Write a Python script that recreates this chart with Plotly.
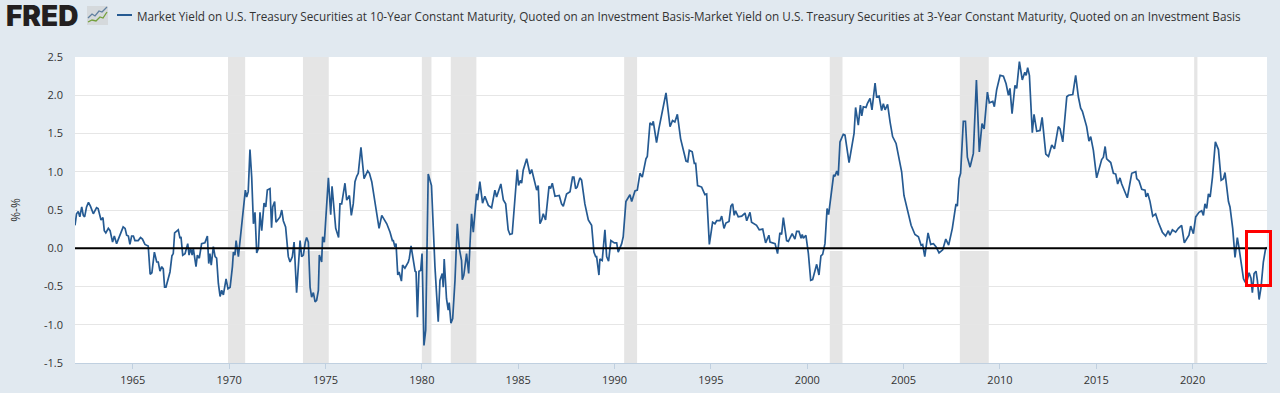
import plotly.graph_objects as go

SERIES_NAME = ("Market Yield on U.S. Treasury Securities at 10-Year Constant Maturity, Quoted on an Investment Basis-"
               "Market Yield on U.S. Treasury Securities at 3-Year Constant Maturity, Quoted on an Investment Basis")

years = [
1962.0,1962.08,1962.17,1962.25,1962.35,1962.43,1962.5,1962.6,1962.7,1962.8,1962.95,1963.12,1963.2,1963.35,1963.45,1963.52,1963.6,1963.73,1963.82,1963.95,
1964.04,1964.16,1964.5,1964.6,1964.68,1964.77,1964.85,1964.94,1965.03,1965.11,1965.28,1965.4,1965.5,1965.63,1965.8,1965.9,1965.99,1966.12,1966.24,1966.32,
1966.41,1966.5,1966.58,1966.65,1966.72,1966.82,1966.93,1967.03,1967.1,1967.17,1967.36,1967.45,1967.5,1967.59,1967.71,1967.85,1967.92,1968.0,1968.08,1968.14,
1968.28,1968.35,1968.45,1968.57,1968.74,1968.87,1968.94,1969.0,1969.07,1969.18,1969.27,1969.35,1969.44,1969.53,1969.61,1969.7,1969.84,1969.94,1970.05,1970.17,
1970.22,1970.3,1970.36,1970.48,1970.6,1970.74,1970.84,1970.91,1970.99,1971.08,1971.17,1971.26,1971.34,1971.43,1971.52,1971.6,1971.69,1971.81,1971.9,1971.98,
1972.12,1972.2,1972.26,1972.36,1972.43,1972.64,1972.73,1972.81,1972.93,1973.07,1973.16,1973.28,1973.37,1973.5,1973.68,1973.76,1973.85,1973.95,1974.02,1974.11,
1974.2,1974.28,1974.37,1974.46,1974.54,1974.63,1974.68,1974.8,1974.85,1974.94,1975.06,1975.15,1975.27,1975.34,1975.53,1975.68,1975.75,1975.84,1976.01,1976.1,
1976.24,1976.34,1976.44,1976.53,1976.62,1976.7,1976.84,1977.0,1977.19,1977.28,1977.4,1977.57,1977.66,1977.78,1977.92,1978.0,1978.18,1978.35,1978.47,1978.52,
1978.6,1978.66,1978.75,1978.82,1978.87,1978.94,1979.0,1979.12,1979.3,1979.35,1979.44,1979.56,1979.65,1979.7,1979.77,1979.85,1979.94,1980.01,1980.11,1980.2,
1980.33,1980.5,1980.68,1980.85,1980.94,1981.06,1981.11,1981.16,1981.28,1981.37,1981.42,1981.51,1981.6,1981.72,1981.84,1981.94,1982.06,1982.1,1982.18,1982.32,
1982.43,1982.5,1982.58,1982.67,1982.84,1982.89,1983.01,1983.15,1983.27,1983.45,1983.62,1983.79,1983.88,1984.1,1984.23,1984.35,1984.48,1984.57,1984.69,1984.95,
1985.02,1985.12,1985.18,1985.26,1985.44,1985.61,1985.7,1985.96,1986.04,1986.13,1986.22,1986.3,1986.42,1986.6,1986.68,1986.77,1986.91,1987.13,1987.25,1987.34,
1987.51,1987.69,1987.82,1987.89,1987.98,1988.06,1988.2,1988.29,1988.46,1988.64,1988.81,1988.93,1989.02,1989.07,1989.19,1989.24,1989.36,1989.5,1989.59,1989.69,
1989.81,1989.99,1990.11,1990.19,1990.37,1990.45,1990.59,1990.8,1990.89,1991.06,1991.18,1991.32,1991.44,1991.63,1991.7,1991.84,1991.96,1992.01,1992.18,1992.3,
1992.44,1992.67,1992.88,1993.01,1993.13,1993.26,1993.43,1993.57,1993.71,1993.8,1993.88,1994.03,1994.14,1994.21,1994.31,1994.52,1994.69,1994.78,1994.92,1995.09,
1995.21,1995.3,1995.47,1995.56,1995.68,1995.78,1995.94,1996.04,1996.13,1996.21,1996.28,1996.42,1996.6,1996.77,1996.86,1997.03,1997.11,1997.37,1997.51,1997.69,
1997.84,1998.01,1998.07,1998.33,1998.46,1998.58,1998.67,1998.76,1998.93,1999.02,1999.22,1999.36,1999.45,1999.57,1999.68,1999.74,1999.8,1999.93,2000.06,2000.18,
2000.28,2000.49,2000.61,2000.71,2000.8,2000.92,2001.03,2001.11,2001.3,2001.37,2001.44,2001.53,2001.61,2001.7,2001.87,2001.96,2002.17,2002.36,2002.43,2002.51,
2002.65,2002.76,2002.83,2002.91,2003.05,2003.12,2003.26,2003.36,2003.52,2003.6,2003.73,2003.86,2003.95,2004.04,2004.17,2004.3,2004.43,2004.61,2004.73,2004.9,
2005.02,2005.25,2005.39,2005.59,2005.77,2005.91,2005.99,2006.1,2006.27,2006.41,2006.55,2006.68,2006.84,2007.03,2007.19,2007.34,2007.53,2007.72,2007.79,2007.88,
2007.96,2008.1,2008.21,2008.31,2008.45,2008.62,2008.78,2008.93,2009.07,2009.18,2009.35,2009.45,2009.63,2009.71,2009.83,2010.01,2010.18,2010.32,2010.44,2010.52,
2010.63,2010.78,2010.87,2011.01,2011.16,2011.29,2011.36,2011.44,2011.53,2011.68,2011.77,2011.91,2012.08,2012.19,2012.38,2012.52,2012.69,2012.83,2013.03,2013.12,
2013.26,2013.47,2013.56,2013.78,2013.93,2014.07,2014.19,2014.28,2014.5,2014.62,2014.71,2014.85,2015.02,2015.28,2015.37,2015.46,2015.54,2015.75,2015.89,2016.01,
2016.11,2016.23,2016.32,2016.61,2016.84,2017.05,2017.1,2017.22,2017.36,2017.53,2017.58,2017.67,2017.79,2017.93,2018.08,2018.22,2018.43,2018.6,2018.74,2018.82,
2018.95,2019.12,2019.26,2019.43,2019.57,2019.81,2019.9,2020.04,2020.16,2020.33,2020.47,2020.56,2020.64,2020.73,2020.82,2020.91,2021.03,2021.18,2021.34,2021.48,
2021.6,2021.68,2021.86,2021.94,2022.08,2022.2,2022.32,2022.41,2022.64,2022.72,2022.81,2022.93,2023.03,2023.1,2023.19,2023.29,2023.36,2023.45,2023.55,2023.67,
2023.79,2023.85,
]

values = [
.30,.45,.48,.41,.54,.43,.41,.54,.60,.55,.45,.53,.52,.37,.40,.23,.20,.26,.23,.08,
.16,.06,.28,.26,.17,.16,.05,.16,.16,.10,.10,.14,.12,.05,.03,-.34,-.32,-.05,-.18,-.18,
-.30,-.24,-.27,-.51,-.51,-.40,-.31,-.10,-.07,.20,.24,.13,.15,-.09,-.07,.06,-.09,0,-.09,0,
-.24,-.09,-.13,.06,.07,.16,-.20,-.07,-.22,.02,-.11,-.13,-.46,-.63,-.55,-.61,-.40,-.53,-.51,-.24,
-.05,-.09,.10,-.11,.19,.45,.76,.67,.74,1.29,.93,.32,.47,-.06,0,.47,.23,.59,.54,.76,
.78,.27,.54,.61,.34,.41,.50,.36,.28,-.11,-.18,-.11,.08,-.58,.10,-.11,-.09,.08,.14,.08,
-.51,-.64,-.58,-.70,-.68,-.55,-.09,-.18,.15,.08,.63,.92,.44,.81,.26,.14,.58,.58,.85,.63,
.69,.43,.58,.87,.94,.98,1.32,.91,1.01,.98,.87,.58,.47,.26,.43,.39,.32,.21,.10,.10,
.02,.06,-.35,-.31,-.35,-.43,-.22,-.26,-.18,-.13,.03,-.18,-.30,-.31,-.90,-.30,-.29,-.07,-1.27,-1.07,
.97,.82,-.24,-.96,-.42,-.33,-.51,-.14,-.66,-.81,-.71,-.98,-.92,-.42,.32,0,-.16,-.41,-.35,-.07,
-.33,.06,.45,.21,.71,.63,.87,.59,.68,.56,.53,.76,.67,.84,.63,.58,.24,.18,.19,1.03,
.82,.89,.85,1.02,1.17,.97,1.03,.76,.82,.32,.37,.45,.37,.81,.78,.85,.68,.69,.58,.55,
.71,.74,.93,.93,.78,.80,.92,.89,.58,.37,.30,-.05,-.11,-.11,-.35,-.14,-.16,.24,-.11,-.17,
.10,.07,.07,-.05,.06,.15,.61,.70,.61,.75,.76,.98,.93,1.17,1.2,1.64,1.61,1.66,1.38,1.56,
1.75,2.03,1.59,1.67,1.65,1.75,1.43,1.28,1.14,1.13,1.28,1.26,1.11,1.11,.82,.80,.70,.71,.05,.34,
.32,.36,.36,.42,.26,.33,.35,.55,.58,.43,.49,.41,.42,.46,.36,.47,.34,.30,.24,.25,
.07,.17,.08,.06,-.07,.20,.18,.40,.10,.09,.19,.12,.22,.22,.13,.18,.13,.17,-.07,-.42,
-.41,-.21,-.35,-.10,-.08,.06,.52,.44,.87,.96,.94,1.01,.95,1.39,1.49,1.48,1.12,1.41,1.50,1.84,
1.61,1.87,1.73,1.85,1.84,1.89,1.96,1.81,2.16,1.98,1.99,1.80,1.89,1.81,1.88,1.65,1.46,1.37,1.23,1.0,
.69,.47,.30,.18,.15,.04,.05,-.11,.20,.05,.06,.02,-.06,-.02,.12,.04,.26,.58,.55,.91,
.98,1.66,1.66,1.19,1.06,1.24,2.20,1.26,1.63,1.56,2.04,1.90,1.92,1.85,2.07,2.26,2.25,2.15,2.0,2.09,
1.76,2.13,2.09,2.44,2.20,2.30,2.26,2.36,2.26,1.51,1.75,1.53,1.54,1.71,1.23,1.20,1.35,1.30,1.59,1.56,
1.39,1.98,2.0,2.01,2.26,1.98,1.83,1.79,1.59,1.40,1.46,1.28,.92,1.16,1.19,1.33,1.17,1.12,.98,.97,
.84,.92,.84,.66,.98,1.0,.91,.88,.77,.76,.67,.72,.61,.42,.45,.34,.21,.16,.23,.17,
.24,.21,.26,.30,.07,.17,.29,.19,.41,.47,.49,.43,.58,.52,.71,.67,.93,1.39,1.29,.89,
.91,.99,.61,.54,.26,-.12,.14,0,-.40,-.44,-.44,-.32,-.39,-.58,-.33,-.30,-.42,-.67,-.51,-.18,
0,.01,
]

recession_start = [1969.94, 1973.83, 1980.0, 1981.5, 1990.5, 2001.17, 2007.92, 2020.08]
recession_end = [1970.83, 1975.17, 1980.5, 1982.83, 1991.17, 2001.83, 2009.42, 2020.25]

x_ticks = [1965, 1970, 1975, 1980, 1985, 1990, 1995, 2000, 2005, 2010, 2015, 2020]
y_ticks = [-1.5, -1.0, -0.5, 0.0, 0.5, 1.0, 1.5, 2.0, 2.5]
y_labels = ["-1.5", "-1.0", "-0.5", "0.0", "0.5", "1.0", "1.5", "2.0", "2.5"]

W, H = 1280, 393
L, R, T, B = 75, 13, 57, 30
def px(x): return (x - L) / (W - L - R)
def py(y): return 1 - (y - T) / (H - T - B)

BG = "#e1e9f0"
LINE = "#255a92"
FONT = "Open Sans"

shapes = []
for s, e in zip(recession_start, recession_end):
    shapes.append(dict(type="rect", xref="x", yref="paper", x0=s, x1=e, y0=0, y1=1,
                       fillcolor="#e5e5e5", line_width=0, layer="between"))
shapes.append(dict(type="line", xref="paper", yref="y", x0=0, x1=1, y0=-0.025, y1=-0.025,
                   line=dict(color="#ffffff", width=1.5), layer="between"))
# hand-drawn overlays of the reference
shapes.append(dict(type="line", xref="paper", yref="y", x0=0, x1=1, y0=0, y1=0,
                   line=dict(color="#000000", width=2), layer="above"))
shapes.append(dict(type="rect", xref="paper", yref="paper",
                   x0=px(1246.5), x1=px(1270.5), y0=py(285.5), y1=py(231.5),
                   line=dict(color="#ff0000", width=3), fillcolor="rgba(0,0,0,0)", layer="above"))
# legend sample
shapes.append(dict(type="line", xref="paper", yref="paper", x0=px(117), x1=px(132), y0=py(15), y1=py(15),
                   line=dict(color=LINE, width=2)))
# logo icon
shapes.append(dict(type="rect", xref="paper", yref="paper", x0=px(87), x1=px(108), y0=py(25), y1=py(6),
                   fillcolor="#d5d9dc", line_width=0))
def poly(pts, color):
    d = "M" + " L".join(f"{px(a):.5f},{py(b):.5f}" for a, b in pts)
    return dict(type="path", xref="paper", yref="paper", path=d, line=dict(color=color, width=1.3))
shapes.append(poly([(88, 18), (92, 14), (95, 16), (99, 11), (102, 12), (107, 7)], "#5f7f9f"))
shapes.append(poly([(88, 22), (92, 20), (96, 21), (100, 17), (103, 18), (107, 12)], "#74a03c"))

annotations = [
    dict(text="FRED", xref="paper", yref="paper", x=px(4), y=py(15.5), xanchor="left", yanchor="middle",
         showarrow=False, font=dict(family="Inter", size=28, weight=900, color="#231f20")),
    dict(text=SERIES_NAME, xref="paper", yref="paper", x=px(134.5), y=py(15.5), xanchor="left", yanchor="middle",
         showarrow=False, font=dict(family=FONT, size=11.72, color="#333333")),
]

fig = go.Figure(go.Scatter(x=years, y=values, mode="lines", name=SERIES_NAME,
                           line=dict(color=LINE, width=1.7), hoverinfo="x+y"))
fig.update_layout(
    width=W, height=H, margin=dict(l=L, r=R, t=T, b=B),
    paper_bgcolor=BG, plot_bgcolor="#ffffff", showlegend=False,
    shapes=shapes, annotations=annotations,
    font=dict(family=FONT, size=11, color="#333333"),
    xaxis=dict(range=[1962.0, 2023.86], tickvals=x_ticks, ticks="outside", ticklen=5, tickcolor="#c0d0e0",
               showline=True, linecolor="#c0d0e0", linewidth=1, showgrid=False, zeroline=False,
               automargin=False, ticklabelstandoff=2,
               tickfont=dict(size=11, color="#333333")),
    yaxis=dict(range=[-1.5, 2.5], tickvals=y_ticks, ticktext=y_labels, ticks="", gridcolor="#e6e6e6", gridwidth=1,
               zeroline=False, showline=False, ticklabelstandoff=11, automargin=False,
               title=dict(text="%-%", font=dict(size=12, color="#333333"), standoff=20),
               tickfont=dict(size=11, color="#333333")),
)
fig.write_html("out.html", config={"displayModeBar": False},
               post_script="document.body.style.margin='0';document.body.style.overflow='hidden';")
